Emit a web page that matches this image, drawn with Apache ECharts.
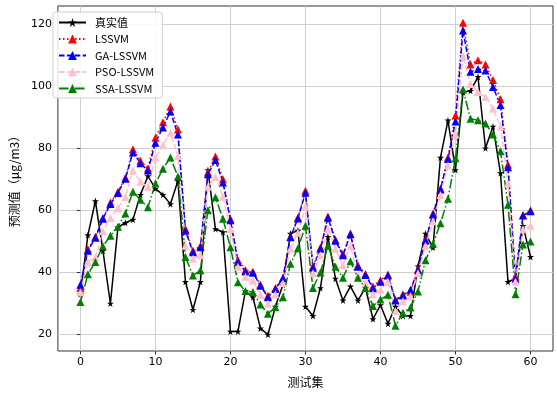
<!DOCTYPE html>
<html>
<head>
<meta charset="utf-8">
<script src="https://cdn.jsdelivr.net/npm/echarts@6/dist/echarts.min.js"></script>
<style>
  html, body { margin: 0; padding: 0; background: #fff; }
  #chart { width: 557px; height: 393px; }
</style>
</head>
<body>
<div id="chart"></div>
<script>
// sample index 0..60
const samples = [];
for (let i = 0; i <= 60; i++) samples.push(i);

const trueVals = [33, 52, 63, 47, 30, 54.5, 56, 57, 65, 71, 67, 65, 62, 69.5, 37, 28, 37, 73, 54, 53,
  21, 21, 34, 32, 22, 20, 29, 36, 52.5, 53.5, 29, 26, 35, 51.5, 38, 31, 35.5, 31, 35, 25,
  29.5, 23.5, 29, 26, 26, 42, 52.5, 48, 77, 89, 73, 98, 98.5, 103, 80, 87, 72, 37, 38, 55, 45];
const lssvm = [35, 47.5, 51.5, 57.5, 62.5, 66, 70.5, 79.7, 76, 73.5, 83.4, 88.4, 93.4, 86, 54, 47, 48.5, 72.3, 77.3, 70,
  57.2, 44, 40.8, 40.2, 36, 32.5, 35, 38.3, 51.5, 57.7, 66.3, 42, 48, 58, 50.5, 46, 52.5, 42.3, 39.5, 35.5,
  37.5, 39.3, 31.2, 33, 33.8, 41, 50.5, 59, 67, 77, 90.5, 120.4, 107, 108.3, 107, 102, 95.8, 74.7, 38.6, 58.5, 60];
const gaLssvm = [36, 47, 51.2, 57.3, 62, 65.6, 70.2, 78.6, 75.2, 72.8, 81.8, 86.7, 91.8, 84.4, 53.4, 46.5, 48.1, 71.6, 76.2, 69,
  56.8, 43.4, 40.3, 39.9, 35.7, 32, 34.7, 38.1, 51.3, 57.4, 65.7, 41.5, 47.6, 57.6, 50.2, 45.5, 52.3, 41.8, 39.2, 34.9,
  37, 39, 31, 32.6, 34.4, 40.7, 50.2, 58.6, 66.7, 76.5, 88.6, 117.9, 104.6, 105.5, 105, 99.7, 93.9, 73.9, 38, 58.3, 59.7];
const psoLssvm = [33.6, 43.3, 44.9, 53.3, 57.5, 60.7, 64.3, 72.8, 69.2, 67.6, 77, 81, 85, 77.5, 48.6, 44.4, 45.5, 67.6, 70.7, 64.4,
  54, 41.8, 38.6, 37.3, 32.8, 29.9, 33, 36.5, 47.6, 52.8, 61.3, 39.7, 45.5, 53.9, 47.6, 42.3, 48.6, 39.2, 36.5, 33,
  34.4, 37, 27.6, 30.7, 32.3, 39.7, 48.6, 56.5, 64.9, 74.4, 84.4, 109.7, 100.7, 98.1, 96.5, 92.8, 87, 68.6, 37, 53.9, 55];
const ssaLssvm = [30.5, 39.4, 43.4, 48.4, 51.8, 54.7, 59, 66, 63.4, 61, 68.6, 73.4, 77, 70.9, 45, 39, 40.7, 60, 64.2, 57.3,
  48.1, 36.8, 34, 33.7, 29.7, 26.7, 28.8, 32, 42.8, 47.8, 55, 35, 40, 48.6, 41.8, 38.3, 43.6, 38.3, 35, 29.2,
  31.3, 32.8, 22.8, 27, 28.7, 33.9, 43.9, 49.2, 55.8, 63.7, 76.8, 98.9, 89.5, 89, 88, 84.4, 79, 61.8, 33, 49, 50];

const xTicks = [0, 10, 20, 30, 40, 50, 60];
const yTicks = [20, 40, 60, 80, 100, 120];

const starPath = "path://M50,0 L61,35 L98,35 L68,57 L79,91 L50,70 L21,91 L32,57 L2,35 L39,35 Z";
const cjk = "'Noto Sans CJK SC', 'DejaVu Sans', sans-serif";

function pairs(vals) {
  return vals.map((v, i) => [samples[i], v]);
}

function lineSeries(name, vals, color, dash, symbol, size) {
  return {
    name: name,
    type: "line",
    data: pairs(vals),
    symbol: symbol,
    symbolSize: size,
    showSymbol: true,
    color: color,
    itemStyle: { color: color, borderWidth: 0 },
    lineStyle: { color: color, width: 1.5, type: dash },
    emphasis: { disabled: true }
  };
}

const chart = echarts.init(document.getElementById("chart"), null, { renderer: "canvas" });
chart.setOption({
  animation: false,
  backgroundColor: "#fff",
  grid: {
    left: 47,
    right: 4,
    top: 6,
    bottom: 36,
    show: true,
    borderColor: "#333",
    borderWidth: 1
  },
  legend: {
    orient: "vertical",
    left: 53,
    top: 12,
    padding: [5, 8, 4, 5],
    itemGap: 5.5,
    itemWidth: 27,
    itemHeight: 11,
    backgroundColor: "rgba(255,255,255,0.85)",
    borderColor: "#d0d0d0",
    borderWidth: 1,
    borderRadius: 3,
    textStyle: { fontFamily: cjk, fontSize: 11, color: "#000", padding: [0, 0, 0, 4] },
    data: ["真实值", "LSSVM", "GA-LSSVM", "PSO-LSSVM", "SSA-LSSVM"]
  },
  xAxis: {
    type: "value",
    min: -3,
    max: 63,
    name: "测试集",
    nameLocation: "middle",
    nameGap: 25,
    nameTextStyle: { fontFamily: cjk, fontSize: 12, color: "#000" },
    axisLine: { show: false },
    axisTick: { show: true, inside: false, length: 3.5, lineStyle: { color: "#333" }, customValues: xTicks },
    axisLabel: { customValues: xTicks, fontFamily: "'DejaVu Sans', sans-serif", fontSize: 11, color: "#000", margin: 6 },
    splitLine: { show: true, lineStyle: { color: "#cfcfcf", width: 1 } }
  },
  yAxis: {
    type: "value",
    min: 14.7,
    max: 125.8,
    name: "预测值（μg/m3）",
    nameLocation: "middle",
    nameGap: 33,
    nameRotate: 90,
    nameTextStyle: { fontFamily: cjk, fontSize: 12, color: "#000" },
    axisLine: { show: false },
    axisTick: { show: true, inside: false, length: 3.5, lineStyle: { color: "#333" }, customValues: yTicks },
    axisLabel: { customValues: yTicks, fontFamily: "'DejaVu Sans', sans-serif", fontSize: 11, color: "#000", margin: 6 },
    splitLine: { show: true, lineStyle: { color: "#cfcfcf", width: 1 } }
  },
  series: [
    lineSeries("真实值", trueVals, "#000000", "solid", starPath, 7),
    lineSeries("LSSVM", lssvm, "#ff0000", [1.5, 2.5], "triangle", 8),
    lineSeries("GA-LSSVM", gaLssvm, "#0000ff", [5.5, 2.4], "triangle", 8),
    lineSeries("PSO-LSSVM", psoLssvm, "#ffc0cb", [5.5, 2.4], "triangle", 8),
    lineSeries("SSA-LSSVM", ssaLssvm, "#008000", [9.6, 2.4, 1.5, 2.4], "triangle", 8)
  ]
});
</script>
</body>
</html>
